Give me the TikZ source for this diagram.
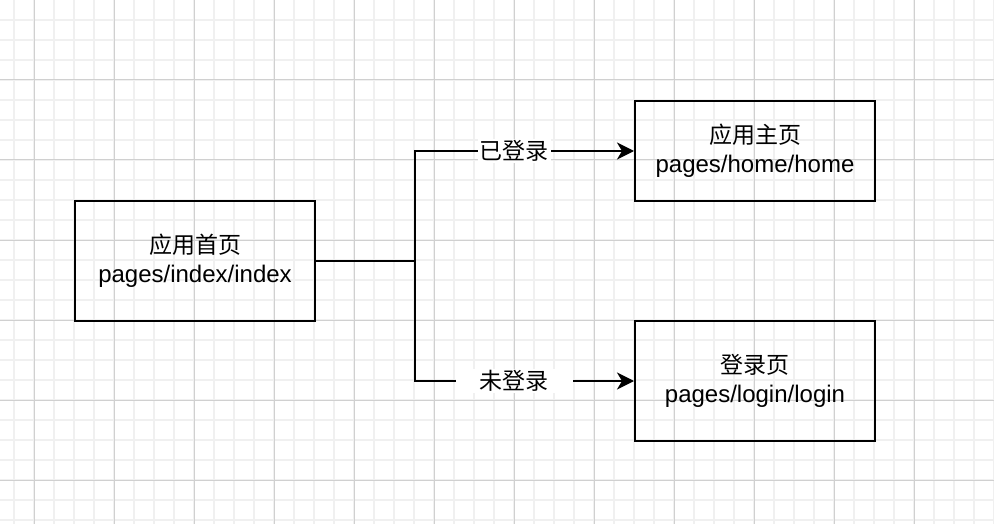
\documentclass[tikz,border=0pt]{standalone}
\usepackage{fontspec}
\setmainfont{Liberation Sans}
\newfontfamily\cjk{Noto Sans CJK SC}
\usetikzlibrary{arrows.meta}
\definecolor{minorgrid}{HTML}{F0F0F0}
\definecolor{majorgrid}{HTML}{D0D0D0}
\tikzstyle{page} = [rectangle, minimum width=240pt, minimum height=120pt, text centered, align=center, draw=black, line width=2pt, font=\fontsize{24}{29}\selectfont]
\tikzstyle{branch} = [fill=white, inner ysep=1pt, font=\cjk\fontsize{23}{26}\selectfont]
\tikzstyle{arrow} = [line width=2pt, -{Stealth[length=17pt, width=17pt, inset=5pt]}]

\begin{document}
\begin{tikzpicture}[x=1pt, y=-1pt]
        \useasboundingbox (0,0) rectangle (994,524);
        % grid
        \foreach \x in {-6,14,...,994} \draw [minorgrid, line width=1.6pt] (\x,0) -- (\x,524);
        \foreach \y in {20,40,...,520} \draw [minorgrid, line width=1.6pt] (0,\y) -- (994,\y);
        \foreach \x in {34,114,...,994} \draw [majorgrid, line width=1pt] (\x,0) -- (\x,524);
        \foreach \y in {0,80,...,480} \draw [majorgrid, line width=1pt] (0,\y) -- (994,\y);

        \node (index) [page] at (195,261) {{\cjk\fontsize{23}{29}\selectfont 应用首页}\\pages/index/index};
        \node (home) [page, minimum height=100pt] at (755,151) {{\cjk\fontsize{23}{29}\selectfont 应用主页}\\pages/home/home};
        \node (login) [page] at (755,381) {{\cjk\fontsize{23}{29}\selectfont 登录页}\\pages/login/login};
        \coordinate (fork) at (415,261);
        \draw [line width=2pt] (index) -- (fork);
        \draw [arrow] (fork) |- node [branch, pos=0.727, inner xsep=2pt] {已登录} (home);
        \draw [arrow] (fork) |- node [branch, pos=0.727, inner xsep=24pt] {未登录} (login);
    \end{tikzpicture}
\end{document}
